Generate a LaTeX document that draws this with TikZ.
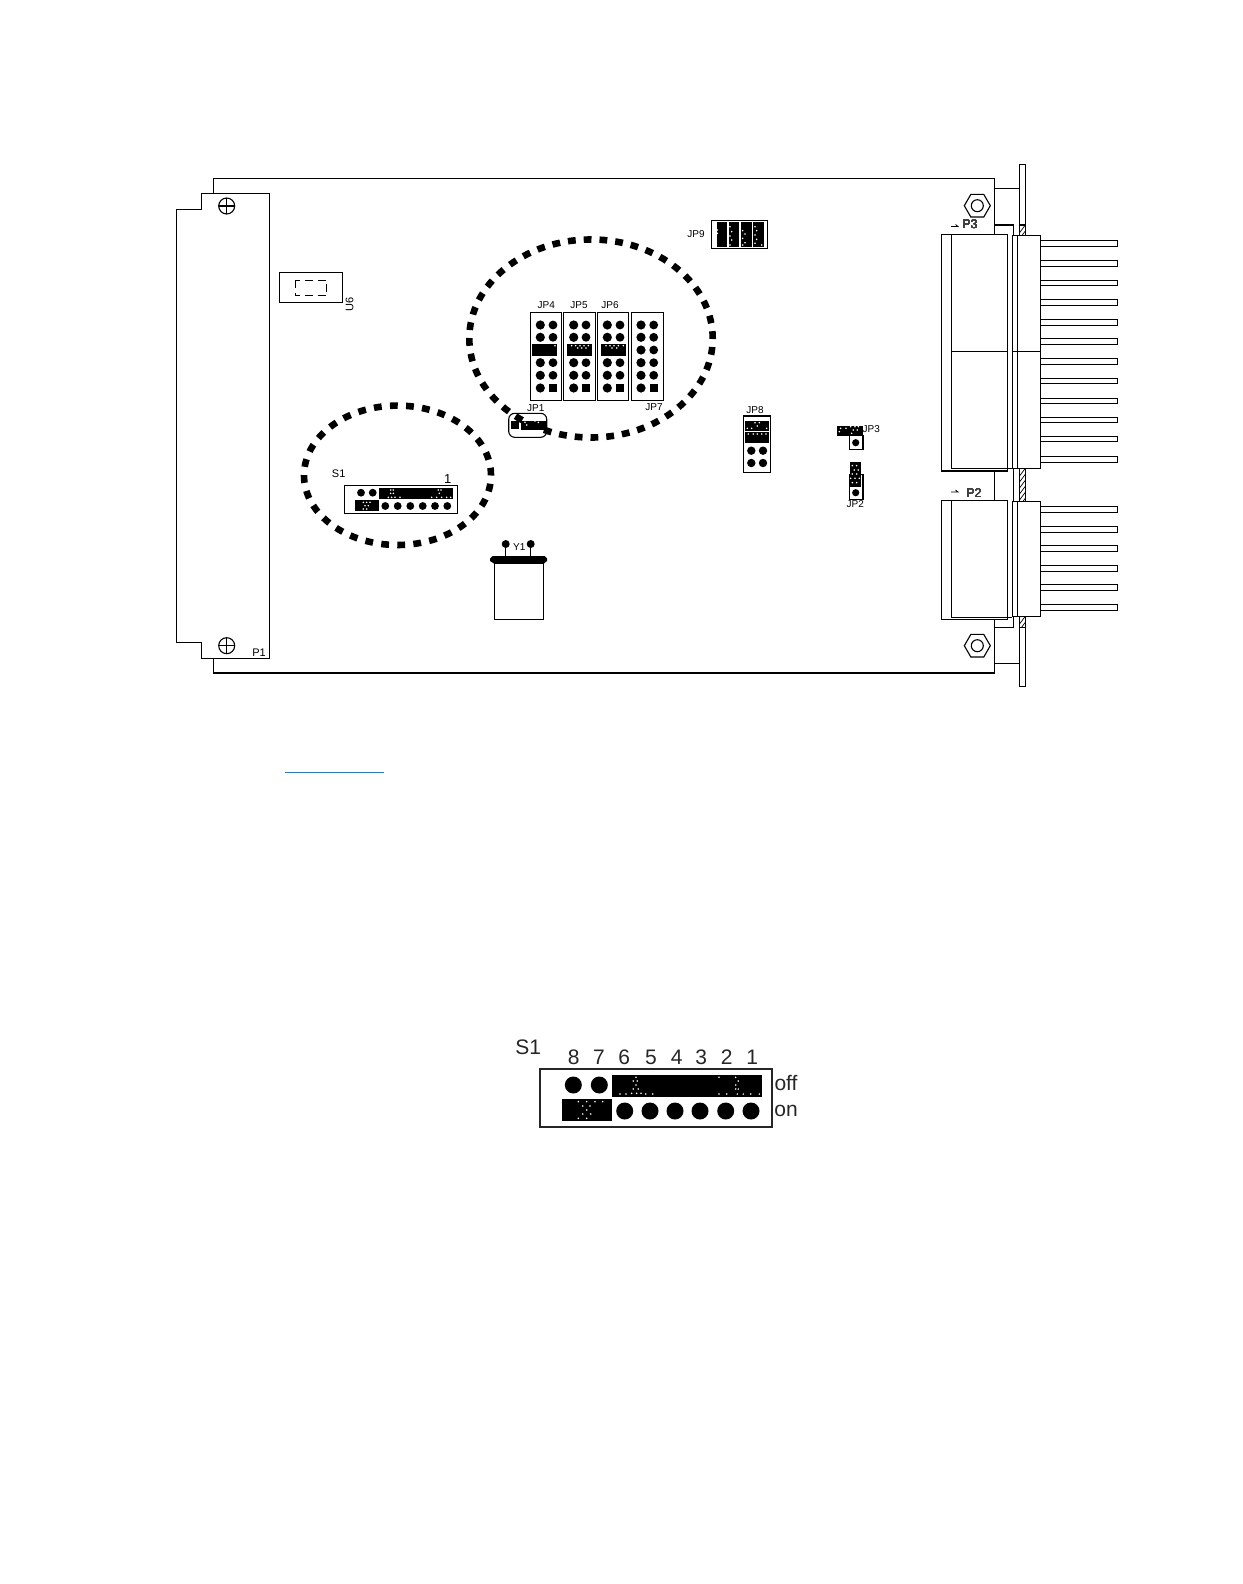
\documentclass[tikz,border=0pt]{standalone}
\usepackage{fontspec}
\setmainfont{Liberation Sans}
\tikzset{
  ln/.style={draw=black,line width=0.55pt},
  lab/.style={inner sep=0pt,font=\fontsize{5pt}{6pt}\selectfont},
  plab/.style={inner sep=0pt,font=\fontsize{6.3pt}{7pt}\selectfont,text=black!75},
  biglab/.style={inner sep=0pt,font=\fontsize{10.5pt}{12pt}\selectfont,text=black!85},
  ring/.style={draw=black,line width=3.3pt}
}
% white speckles, listed in zoom-crop coordinates (1/3 px) from an origin
\newcommand{\speckle}[3]{\begin{scope}[shift={(#1,#2)},x=0.16667pt,y=-0.16667pt]
  \foreach \a/\b in {#3} \fill[white] (\a,\b) circle[radius=2.6];
\end{scope}}
\newcommand{\hatchseg}[2]{\begin{scope}
  \clip (1019.3,#1) rectangle (1025.3,#2);
  \foreach \q in {0,6,...,36} \draw[line width=0.35pt] (1019.3,#1+\q+8) -- (1025.3,#1+\q);
\end{scope}}
\newcommand{\barepin}[1]{\draw[ln] (1040.3,#1-2.8) rectangle (1117.7,#1+2.8);}
\newcommand{\jpcol}[3]{% x1, x2, dot rows
  \foreach \r in {#3} { \fill (#1,\r) circle[radius=4.6]; \fill (#2,\r) circle[radius=4.4]; }
  \fill (#1,388) circle[radius=4.6];
  \fill (#2-4,384) rectangle (#2+4,392);
}
\begin{document}
\begin{tikzpicture}[x=0.5pt,y=-0.5pt]
\useasboundingbox (0,0) rectangle (1242,1584);
\fill[white] (0,0) rectangle (1242,1584);

% ---------- board outline
\draw[ln] (994.3,234.3) -- (994.3,178.3) -- (213.3,178.3) -- (213.3,193.3);
\draw[ln] (994.3,471) -- (994.3,500.3);
\draw[ln] (994.3,619.3) -- (994.3,673) -- (213.3,673) -- (213.3,658.3);

% ---------- P1 edge connector
\draw[ln] (269.3,658.3) -- (269.3,193.3) -- (201.3,193.3) -- (201.3,209.3) -- (176.3,209.3)
  -- (176.3,642.7) -- (201.3,642.7) -- (201.3,658.3) -- cycle;
\coordinate (sa) at (226.7,206);
\coordinate (sb) at (226.7,645.7);
\foreach \s in {sa,sb} {
  \draw[ln] (\s) circle[radius=8];
  \draw[ln] ([xshift=-4pt]\s) -- ([xshift=4pt]\s);
  \draw[ln] ([yshift=-4pt]\s) -- ([yshift=4pt]\s);
}
\node[lab,font=\fontsize{5.5pt}{6pt}\selectfont] (p1) at (259,652.3) {P1};

% ---------- U6
\draw[ln] (279.3,272.3) rectangle (342.7,302.7);
\draw[line width=0.5pt,dash pattern=on 4pt off 2.4pt] (295,280) rectangle (326.7,295.7);
\node[lab,rotate=90,font=\fontsize{5.5pt}{6pt}\selectfont] (u6) at (349.5,304) {U6};

% ---------- JP4..JP7
\draw[ln] (530.3,312.3) rectangle (561.7,400.3);
\draw[ln] (563.3,312.3) rectangle (595.7,400.3);
\draw[ln] (597.3,312.3) rectangle (628.7,400.3);
\draw[ln] (631.3,312.3) rectangle (663.3,400.3);
\jpcol{540.3}{553}{325,337.3,362.7,375.3}
\jpcol{573.7}{586}{325,337.3,362.7,375.3}
\jpcol{607.3}{620}{325,337.3,362.7,375.3}
\jpcol{641}{653.7}{325,337.3,350,362.7,375.3}
\fill (532,344.3) rectangle (557,355.7);
\fill (567,344.3) rectangle (592.3,355.7);
\fill (601,344.3) rectangle (625.7,355.7);
\speckle{460}{210}{285/407,335/407,347/407,360/407,372/407,385/407,353/414,365/414,378/414,
  438/407,450/407,462/407,475/407,490/407,456/414,470/414}
\node[lab] (jp4) at (546.3,304.7) {JP4};
\node[lab] (jp5) at (579,304.7) {JP5};
\node[lab] (jp6) at (610,304.7) {JP6};
\node[lab] (jp7) at (654,406.7) {JP7};

% ---------- JP1
\draw[ln,rounded corners=3pt] (508.7,413.3) rectangle (546.7,437.3);
\fill (511,421.3) rectangle (519,429);
\fill (521.3,420.7) rectangle (546.7,430);
\speckle{460}{210}{195/637,215/637,225/633,235/637,200/645}
\node[lab] (jp1) at (535.7,408.3) {JP1};

% ---------- JP9
\draw[ln] (711.3,220.7) rectangle (767.7,248.3);
\fill (716.7,222.3) rectangle (727,246.7);
\fill (728.7,222.3) rectangle (739,246.7);
\fill (741.3,222.3) rectangle (751.7,246.7);
\fill (753,222.3) rectangle (764.3,246.7);
\speckle{460}{210}{772/60,772/70,810/50,815/65,810/78,815/90,810/105,848/62,855/72,848/85,855/98,848/105,
  885/50,890/62,885/75,890/88,885/100,905/105}
\node[lab] (jp9) at (696,234.3) {JP9};

% ---------- JP8
\draw[ln] (743.3,416) rectangle (770.3,472.7);
\fill (745,421) rectangle (769,430.7);
\fill (745,432.3) rectangle (769,442.7);
\foreach \r in {450.7,463} { \fill (751.3,\r) circle[radius=4.2]; \fill (763,\r) circle[radius=4.2]; }
\speckle{720}{400}{105/68,118/68,112/78,82/85,95/85,140/85,85/102,100/102,112/102,125/102,138/102}
\node[lab] (jp8) at (755,410.3) {JP8};

% ---------- JP3, JP2
\draw[ln] (849.3,435.7) rectangle (863,449.7);
\fill (837,425.7) rectangle (863,435.7);
\fill (855.7,442.7) circle[radius=3.6];
\speckle{720}{400}{362/85,378/85,392/80,405/80,415/80,400/90,412/90,358/95,395/100}
\node[lab] (jp3) at (871.3,429) {JP3};
\draw[ln] (849.3,474.3) rectangle (863,499.3);
\fill (850.3,462) rectangle (861,486.7);
\fill (855.7,492.7) circle[radius=3.6];
\speckle{720}{400}{397/197,410/197,403/210,415/210,397/222,410/222,392/235,405/235,418/235,397/248,410/248}
\node[lab] (jp2) at (855.3,504.3) {JP2};

% ---------- Y1
\draw[ln] (494.3,563.7) rectangle (543.7,619.3);
\fill (490,558.5) -- (492.5,556) -- (544.5,556) -- (547,558.5) -- (547,561) -- (543.7,563.7) -- (494.3,563.7) -- (490,561) -- cycle;
\coordinate (ya) at (505.7,544);
\coordinate (yb) at (530.7,544);
\draw[ln] (ya) -- ++(0,12);
\draw[ln] (yb) -- ++(0,12);
\fill (ya) circle[radius=4]; \fill (yb) circle[radius=4];
\node[lab] (y1) at (519.3,547.3) {Y1};

% ---------- small S1
\draw[ln] (344.3,485.3) rectangle (457.3,513.3);
\fill (379,488) rectangle (453,498.7);
\fill (355,500.3) rectangle (379,510.7);
\foreach \c in {361,372.7} \fill (\c,492.7) circle[radius=3.9];
\foreach \c in {385.3,397.7,410.3,422.7,435,447.3} \fill (\c,506) circle[radius=3.9];
\speckle{160}{160}{692/990,700/990,692/1000,700/1000,685/1012,695/1012,705/1012,720/1012,
  835/990,843/990,838/1000,815/1012,830/1012,845/1012,860/1012,872/1012,
  610/1027,620/1027,630/1027,615/1037,625/1037,610/1047,620/1047}
\node[lab,font=\fontsize{5.5pt}{6pt}\selectfont] (s1a) at (338.7,474) {S1};
\node[lab,font=\fontsize{6.5pt}{7pt}\selectfont] (s1b) at (447.7,479.3) {1};

% ---------- rings
\draw[ring,dash pattern=on 3.9pt off 4pt,dash phase=3.65pt] (591,338.5) ellipse[x radius=121.7,y radius=99];
\draw[ring,dash pattern=on 3.9pt off 4.155pt,dash phase=3.8pt] (397.5,475.3) ellipse[x radius=93.5,y radius=69.7];

% ---------- right panel
\draw[ln] (994.3,188.3) -- (1019.3,188.3);
\draw[ln] (1019.3,235.3) -- (1019.3,164.3) -- (1025.3,164.3) -- (1025.3,235.3);
\draw[ln] (994.3,225) -- (1013.3,225) -- (1013.3,235.3);
\draw[ln] (1019.3,225) -- (1025.3,225);
\hatchseg{225}{235.3}
\draw[ln] (1013.3,468.3) -- (1013.3,501.3);
\draw[ln] (1019.3,468.3) -- (1019.3,501.3);
\draw[ln] (1025.3,468.3) -- (1025.3,501.3);
\hatchseg{468.3}{501.3}
\draw[ln] (994.3,663.3) -- (1019.3,663.3);
\draw[ln] (994.3,627.7) -- (1013.3,627.7) -- (1013.3,616.3);
\draw[ln] (1019.3,616.3) -- (1019.3,686.7) -- (1025.3,686.7) -- (1025.3,616.3);
\draw[ln] (1019.3,627.7) -- (1025.3,627.7);
\hatchseg{616.3}{627.7}

% ---------- nuts
\coordinate (na) at (977.3,205.7);
\coordinate (nb) at (977.3,645.7);
\foreach \n in {na,nb} {
  \draw[ln] ([shift={(0:13)}]\n) -- ([shift={(60:13)}]\n) -- ([shift={(120:13)}]\n) -- ([shift={(180:13)}]\n)
    -- ([shift={(240:13)}]\n) -- ([shift={(300:13)}]\n) -- cycle;
  \draw[ln] (\n) circle[radius=6];
}

% ---------- P3 connector
\draw[ln,fill=white] (941.3,234.3) rectangle (1007.7,471);
\draw[ln] (951.3,234.3) -- (951.3,468.3) -- (1012.3,468.3);
\draw[ln] (1012.3,235.3) rectangle (1040.3,468.3);
\draw[ln] (1017.3,235.3) -- (1017.3,468.3);
\draw[ln] (951.3,351.3) -- (1007.7,351.3);
\draw[ln] (1012.3,351.3) -- (1040.3,351.3);
\foreach \y in {243.3,263.3,283,302.6,322.3,341.7,361.3,381,401,420,439,459.3} \barepin{\y}
\node[plab] (p3) at (970,224) {P3};
\draw[line width=0.4pt] (951,226.5) -- (958,226.5) -- (955.5,224.5);

% ---------- P2 connector
\draw[ln,fill=white] (941.3,500.3) rectangle (1007.7,619.3);
\draw[ln] (951.3,500.3) -- (951.3,617.3) -- (1012.3,617.3);
\draw[ln] (1012.3,501.3) rectangle (1040.3,616.3);
\draw[ln] (1017.3,501.3) -- (1017.3,616.3);
\foreach \y in {509.3,529.3,548.7,568.3,587.7,607.7} \barepin{\y}
\node[plab] (p2) at (974,493) {P2};
\draw[line width=0.4pt] (951,492) -- (958,492) -- (955.5,490);

% ---------- link rule
\draw[line width=0.7pt,draw={rgb,255:red,43;green,123;blue,185}] (285,772.3) -- (384,772.3);

% ---------- enlarged S1
\draw[line width=0.9pt,draw=black!85] (540,1069.3) rectangle (771.7,1126.7);
\fill (612,1075) rectangle (762.3,1096.7);
\fill (561.7,1099.3) rectangle (611.7,1121.3);
\foreach \c in {573.3,599.3} \fill (\c,1085) circle[radius=8.5];
\foreach \c in {624.7,650,675,700,725.7,751} \fill (\c,1111) circle[radius=8.5];
\speckle{500}{1020}{408/172,412/183,400/183,408/195,400/207,415/207,395/220,410/220,423/220,437/222,458/222,378/222,360/222,
  657/172,707/172,715/183,707/195,715/207,707/207,730/222,752/222,778/222,680/222,657/222,712/222,
  235/245,260/245,285/245,308/245,248/258,270/258,260/270,248/282,272/282,235/295,260/295}
\node[biglab] (bs) at (528.3,1047.3) {S1};
\node[biglab] (d8) at (573.7,1057.3) {8};
\node[biglab] (d7) at (599,1057.3) {7};
\node[biglab] (d6) at (624.3,1057.3) {6};
\node[biglab] (d5) at (651,1057.3) {5};
\node[biglab] (d4) at (676.7,1057.3) {4};
\node[biglab] (d3) at (701.3,1057.3) {3};
\node[biglab] (d2) at (726.7,1057.3) {2};
\node[biglab] (d1) at (752.3,1057.3) {1};
\node[biglab] (off) at (786,1083.3) {off};
\node[biglab] (on) at (786,1110.7) {on};
\end{tikzpicture}
\end{document}
